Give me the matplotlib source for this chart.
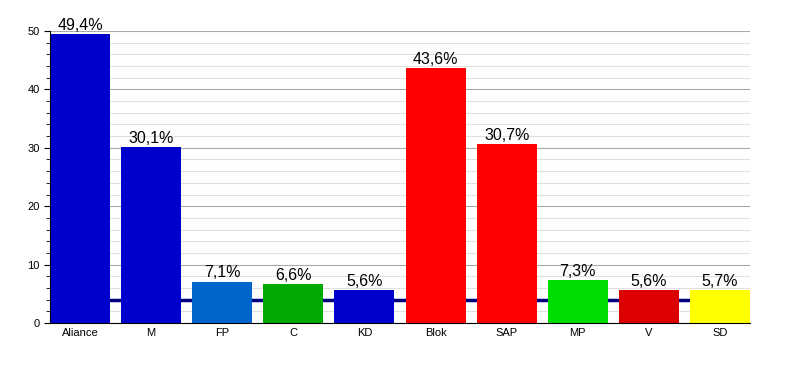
import matplotlib.pyplot as plt
from matplotlib.ticker import MultipleLocator

plt.rcParams['font.family'] = ['Liberation Sans', 'DejaVu Sans']

parties = ['Aliance', 'M', 'FP', 'C', 'KD', 'Blok', 'SAP', 'MP', 'V', 'SD']
values = [49.4, 30.1, 7.1, 6.6, 5.6, 43.6, 30.7, 7.3, 5.6, 5.7]
labels = ['49,4%', '30,1%', '7,1%', '6,6%', '5,6%', '43,6%', '30,7%', '7,3%', '5,6%', '5,7%']
colors = ['#0000cc', '#0000cc', '#0066cc', '#00aa00', '#0000cc',
          '#ff0000', '#ff0000', '#00dd00', '#dd0000', '#ffff00']
threshold = 4

fig = plt.figure(figsize=(8, 3.73), dpi=100)
ax = fig.add_axes([0.0625, 0.134, 0.875, 0.783])

w = 0.845
x = range(len(parties))
ax.axhline(threshold, color='#000080', lw=2.5, zorder=1)
bars = ax.bar(x, values, width=w, color=colors, zorder=2)
for b, lab in zip(bars, labels):
    ax.text(b.get_x() + b.get_width() / 2, b.get_height() + 0.2, lab,
            ha='center', va='bottom', fontsize=11.5)

ax.set_xlim(-w / 2, len(parties) - 1 + w / 2)
ax.set_ylim(0, 50)
ax.set_xticks(list(x))
ax.set_xticklabels(parties, fontsize=8)
ax.yaxis.set_major_locator(MultipleLocator(10))
ax.yaxis.set_minor_locator(MultipleLocator(2))
ax.tick_params(axis='y', labelsize=8, length=4, direction='out')
ax.tick_params(axis='y', which='minor', length=3)
ax.tick_params(axis='x', length=0)
ax.grid(axis='y', which='major', color='#aaaaaa', lw=0.8, zorder=0)
ax.grid(axis='y', which='minor', color='#e0e0e0', lw=0.8, zorder=0)
ax.set_axisbelow(True)
for s in ['top', 'right']:
    ax.spines[s].set_visible(False)

fig.savefig('out.png')
